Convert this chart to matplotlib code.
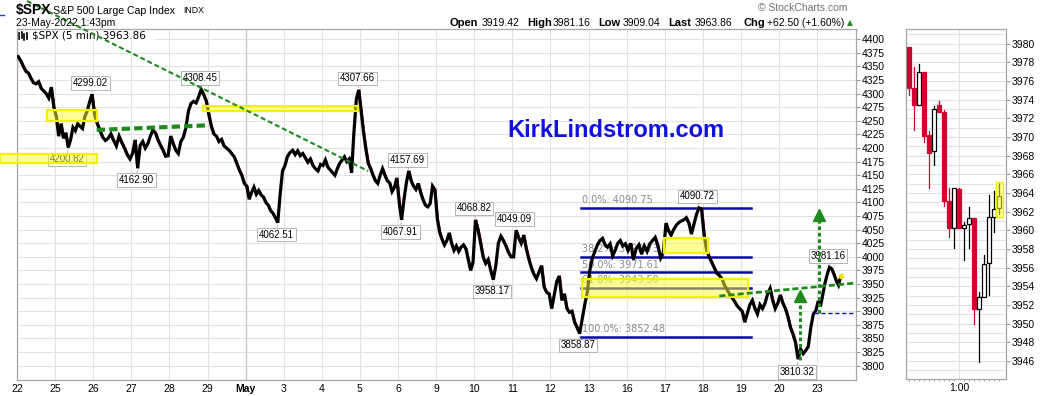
import matplotlib
matplotlib.use("Agg")
import matplotlib.pyplot as plt
import matplotlib.patches as mpatches
import matplotlib.transforms as mtransforms
from matplotlib.lines import Line2D
import numpy as np

plt.rcParams["font.family"] = ["Liberation Sans", "DejaVu Sans"]

W, H = 1050, 396

# ---- data ----
day_labels = ["22", "25", "26", "27", "28", "29", "May", "3", "4", "5", "6",
              "9", "10", "11", "12", "13", "16", "17", "18", "19", "20", "23"]

# intraday $SPX path per session (roughly half-hour samples)
apr22 = [4368, 4360, 4350, 4341, 4338, 4328, 4320, 4318, 4322, 4310, 4305, 4300, 4292, 4312, 4275]
apr25 = [4258, 4222, 4245, 4218, 4228, 4201, 4215, 4238, 4232, 4245, 4240, 4236, 4258, 4268, 4285, 4299]
apr26 = [4262, 4245, 4232, 4220, 4214, 4218, 4226, 4214, 4204, 4222, 4210, 4200, 4188, 4180]
apr27 = [4190, 4215, 4163, 4205, 4212, 4200, 4208, 4222, 4233, 4228, 4215, 4205, 4196, 4185, 4186]
apr28 = [4222, 4208, 4196, 4190, 4212, 4220, 4238, 4268, 4282, 4286, 4283, 4294, 4308, 4298, 4287]
apr29 = [4262, 4240, 4226, 4222, 4212, 4216, 4204, 4200, 4196, 4190, 4184, 4172, 4160, 4150, 4135]
may02 = [4130, 4106, 4118, 4128, 4115, 4122, 4114, 4110, 4100, 4095, 4085, 4080, 4072, 4063, 4115, 4158]
may03 = [4168, 4185, 4192, 4196, 4188, 4195, 4186, 4190, 4182, 4174, 4180, 4168, 4162, 4158, 4170]
may04 = [4168, 4178, 4165, 4160, 4155, 4150, 4162, 4172, 4178, 4184, 4175, 4180, 4155, 4230, 4290, 4307]
may05 = [4268, 4230, 4198, 4172, 4162, 4150, 4140, 4135, 4150, 4162, 4150, 4140, 4136, 4120, 4128, 4145]
may06 = [4100, 4068, 4105, 4136, 4158, 4140, 4130, 4124, 4135, 4118, 4105, 4095, 4092, 4098, 4130, 4123]
may09 = [4070, 4045, 4032, 4022, 4030, 4044, 4025, 4012, 4020, 4010, 4018, 4022, 4015, 3995, 3975, 3990]
may10 = [4068, 4050, 4026, 4000, 3988, 3995, 3975, 3958, 3984, 4025, 4038, 4030, 4020, 4008, 4000]
may11 = [4000, 4049, 4035, 4025, 4040, 4015, 3996, 3980, 3968, 3960, 3972, 3984, 3945, 3935, 3932]
may12 = [3905, 3930, 3955, 3965, 3920, 3932, 3905, 3898, 3900, 3880, 3870, 3859, 3885, 3912, 3935]
may13 = [3975, 3998, 4010, 4022, 4030, 4034, 4022, 4018, 4024, 4002, 4012, 4025, 4030, 4020, 4024]
may16 = [4012, 4025, 3995, 4015, 4022, 4005, 4020, 4010, 4024, 4030, 4036, 4020, 3998, 4008]
may17 = [4062, 4048, 4040, 4050, 4058, 4063, 4066, 4068, 4072, 4062, 4042, 4060, 4078, 4090, 4088]
may18 = [4040, 4012, 4000, 3990, 3980, 3970, 3966, 3960, 3948, 3940, 3932, 3925, 3918, 3910, 3905]
may19 = [3900, 3880, 3896, 3912, 3920, 3905, 3895, 3912, 3905, 3915, 3932, 3942, 3920, 3905, 3915]
may20 = [3930, 3915, 3905, 3890, 3870, 3858, 3842, 3812, 3830, 3822, 3828, 3835, 3870, 3895, 3901]
may23 = [3919, 3909, 3930, 3952, 3968, 3981, 3978, 3968, 3956, 3948, 3964]

sessions = [apr22, apr25, apr26, apr27, apr28, apr29, may02, may03, may04, may05, may06,
            may09, may10, may11, may12, may13, may16, may17, may18, may19, may20, may23]
last_session_part = 253 / 390  # 9:30 -> 13:43

# labelled highs / lows and the session they belong to
peak_values = [4299.02, 4308.45, 4307.66, 4157.69, 4068.82, 4049.09, 4090.72, 3981.16]
peak_sessions = [1, 4, 8, 10, 12, 13, 17, 21]
trough_values = [4200.82, 4162.90, 4062.51, 4067.91, 3958.17, 3858.87, 3810.32]
trough_sessions = [1, 3, 6, 10, 12, 14, 20]

fib_names = ["0.0%", "38.2%", "50.0%", "61.8%", "100.0%"]
fib_levels = [4090.75, 3999.73, 3971.61, 3943.50, 3852.48]

# last 19 five-minute candles (12:10 .. 13:40)
c_open = [3979.6, 3975.3, 3973.4, 3977.0, 3970.2, 3968.5, 3973.4, 3972.7, 3963.1, 3960.3,
          3964.4, 3960.2, 3960.7, 3961.3, 3951.6, 3952.9, 3956.5, 3961.4, 3962.4]
c_high = [3979.6, 3977.5, 3977.8, 3977.0, 3970.6, 3973.3, 3973.9, 3972.9, 3964.5, 3964.5,
          3964.5, 3960.9, 3962.5, 3961.3, 3953.4, 3957.4, 3963.8, 3964.2, 3965.1]
c_low = [3974.5, 3970.8, 3973.4, 3969.5, 3964.5, 3967.0, 3972.7, 3962.6, 3959.3, 3958.1,
         3960.3, 3956.8, 3958.1, 3950.0, 3945.9, 3952.9, 3953.1, 3959.8, 3961.8]
c_close = [3975.3, 3973.4, 3977.0, 3970.1, 3968.3, 3973.0, 3972.7, 3963.1, 3960.3, 3964.5,
           3960.3, 3960.6, 3961.3, 3951.6, 3952.9, 3956.4, 3961.4, 3962.3, 3963.7]

RED = "#d4002f"
GREEN = "#1e8a1e"
GRID = "#e2e2e2"
FRAME = "#a6a6a6"

fig = plt.figure(figsize=(W / 100, H / 100), dpi=100)


def ft(px, py, s, **kw):
    kw.setdefault("va", "center")
    return fig.text(px / W, 1 - py / H, s, **kw)


# ---- main panel ----
ax = fig.add_axes([17 / W, 1 - 380 / H, 839 / W, 351 / H])
ax.set_xlim(0, 22.02)
ax.set_ylim(3773.7, 4418.9)
ax.set_axisbelow(True)

xs, ys, sess_x = [], [], []
for d, vals in enumerate(sessions):
    span = last_session_part if d == len(sessions) - 1 else 1.0
    n = len(vals)
    dx = [d + (i + 0.5) / n * span for i in range(n)]
    sess_x.append(dx)
    xs += dx
    ys += vals
xs = np.array(xs)
ys = np.array(ys, dtype=float)

ax.plot(xs, ys, color="black", lw=2.3, zorder=3, solid_joinstyle="miter")
# red specks on the falling stretches
shift = mtransforms.offset_copy(ax.transData, fig=fig, x=1.2, units="dots")
for i in range(len(ys) - 1):
    if ys[i + 1] < ys[i] - 6:
        ax.plot(xs[i:i + 2], ys[i:i + 2], color=RED, lw=0.6, zorder=2.9, transform=shift)
ax.plot(xs[-1], ys[-1], "o", ms=3, color="#f0e000", zorder=3.5)

# grid + axes styling
ax.set_yticks(np.arange(3800, 4401, 25))
ax.set_xticks(range(len(day_labels)))
ax.set_xticklabels(day_labels)
ax.grid(True, color=GRID, lw=0.8)
for t in ax.get_xticklabels():
    if t.get_text() == "May":
        t.set_fontweight("bold")
ax.axvline(6, color="#c4c4c4", lw=0.9, zorder=0.6)
ax.yaxis.tick_right()
ax.tick_params(axis="y", length=3, width=0.7, color="#909090", pad=1, labelsize=7.5)
ax.tick_params(axis="x", length=0, pad=3, labelsize=7.5)
for s in ax.spines.values():
    s.set_color(FRAME)
    s.set_linewidth(0.9)

# legend strip
ax.add_patch(mpatches.Rectangle((0, 0.969), 0.1645, 0.031, transform=ax.transAxes,
                                fc="white", ec="none", zorder=1.5))
ax.text(15 / 839, 1 - 6 / 351, "$SPX (5 min) 3963.86", transform=ax.transAxes,
        fontsize=7.5, family="DejaVu Sans", va="center", ha="left", zorder=1.6)
for x0, y0, y1 in [(2, 3, 9), (4.5, 2, 8), (7, 4, 10), (9.5, 3, 9)]:
    ax.add_line(Line2D([x0 / 839, x0 / 839], [1 - (y0 + 1) / 351, 1 - (y1 + 1) / 351],
                       transform=ax.transAxes, color="black", lw=1.2, zorder=1.6))

# fibonacci retracement
for name, lev in zip(fib_names, fib_levels):
    ax.plot([14.80, 19.27], [lev, lev], color="#0a0aa8", lw=1.8, zorder=2.5)
    ax.annotate(f"{name}: {lev:.2f}", (14.82, lev), xytext=(0, 2), textcoords="offset points",
                fontsize=7, color="#8a8a8a", ha="left", va="bottom", zorder=2.4,
                family="DejaVu Sans")

# yellow highlight boxes
boxes = [(0.78, 4249.8, 2.108, 4270.0), (-0.446, 4172.1, 2.108, 4188.6),
         (4.882, 4268.2, 8.95, 4278.0), (16.98, 4007.7, 18.14, 4035.3),
         (14.83, 3926.8, 19.19, 3958.8)]
for x0, y0, x1, y1 in boxes:
    ax.add_patch(mpatches.Rectangle((x0, y0), x1 - x0, y1 - y0, fc=(1, 1, 0.2, 0.5),
                                    ec=(0.95, 0.95, 0.0, 1), lw=1.6, zorder=6, clip_on=False))

# green dashed trend lines
ax.plot([0.262, 9.213], [4470.4, 4157.9], color=GREEN, lw=1.5, dashes=(2.4, 1.4),
        zorder=7, clip_on=False)
ax.plot([2.092, 5.021], [4233.3, 4241.9], color=GREEN, lw=3, dashes=(2, 1), zorder=7)
ax.plot([18.433, 21.95], [3928.1, 3951.5], color=GREEN, lw=2, dashes=(2.2, 1.1), zorder=7)

# green measured-move arrows
tip_tf = mtransforms.offset_copy(ax.transData, fig=fig, y=-4.2, units="points")
for x, base, tip in [(20.55, 3811, 3939), (21.06, 3897, 4087)]:
    ax.plot([x, x], [base, tip - 12], color=GREEN, lw=2.2, dashes=(1.2, 0.9), zorder=7)
    ax.plot([x], [tip], marker="^", ms=9, color=GREEN, transform=tip_tf, zorder=7)

ax.plot([20.92, 22.02], [3897.5, 3897.5], color="#0000ff", lw=1, dashes=(3, 2), zorder=7)

# high / low tags
box_kw = dict(boxstyle="square,pad=0.18", fc="white", ec="#b4b4b4", lw=0.7)
arrow_kw = dict(arrowstyle="-", color="#b4b4b4", lw=0.7, shrinkA=0, shrinkB=1.5)
for v, s in zip(peak_values, peak_sessions):
    x = sess_x[s][int(np.argmax(sessions[s]))]
    ax.annotate(f"{v:.2f}", (x, v), xytext=(-1, 8), textcoords="offset points", ha="center",
                va="center", fontsize=7, bbox=box_kw, arrowprops=arrow_kw, zorder=5)
for v, s in zip(trough_values, trough_sessions):
    x = sess_x[s][int(np.argmin(sessions[s]))]
    ax.annotate(f"{v:.2f}", (x, v), xytext=(-1, -8.5), textcoords="offset points", ha="center",
                va="center", fontsize=7, bbox=box_kw, arrowprops=arrow_kw, zorder=5)

ax.text(15.72, 4232, "KirkLindstrom.com", color="#1010e0", fontsize=17, fontweight="bold",
        ha="center", va="center", zorder=8)

# ---- intraday candle panel ----
ax2 = fig.add_axes([905.7 / W, 1 - 379.3 / H, 100.3 / W, 350.6 / H])
ax2.set_xlim(-0.72, 19.42)
ax2.set_ylim(3944.04, 3981.6)
ax2.set_axisbelow(True)
for i, (o, h, l, c) in enumerate(zip(c_open, c_high, c_low, c_close)):
    up = c >= o
    col = "black" if up else RED
    ax2.plot([i, i], [l, h], color=col, lw=0.9, zorder=2)
    lo, hi = min(o, c), max(o, c)
    ax2.add_patch(mpatches.Rectangle((i - 0.42, lo), 0.84, max(hi - lo, 0.15),
                                     fc="white" if up else RED, ec=col, lw=0.9, zorder=3))
ax2.add_patch(mpatches.Rectangle((17.4, 3961.46), 1.36, 3.72, fc=(1, 1, 0.2, 0.55),
                                 ec=(0.95, 0.95, 0, 1), lw=1, zorder=4))
ax2.yaxis.tick_right()
ax2.set_yticks(np.arange(3946, 3981, 2))
ax2.set_yticks(np.arange(3945, 3982, 1), minor=True)
ax2.set_xticks([10])
ax2.set_xticklabels(["1:00"])
ax2.set_xticks(range(19), minor=True)
ax2.grid(True, which="both", axis="y", color=GRID, lw=0.8)
ax2.grid(True, which="major", axis="x", color=GRID, lw=0.8)
ax2.tick_params(axis="y", which="major", length=3, width=0.7, color="#909090", pad=1, labelsize=7.5)
ax2.tick_params(axis="y", which="minor", length=0)
ax2.tick_params(axis="x", which="major", length=0, pad=3, labelsize=7.5)
ax2.tick_params(axis="x", which="minor", length=1.5, color="#909090")
for s in ax2.spines.values():
    s.set_color(FRAME)
    s.set_linewidth(0.9)

# ---- header ----
ft(16, 10, "$SPX", fontsize=10, fontweight="bold")
ft(53, 10.5, "S&P 500 Large Cap Index", fontsize=7.6)
ft(183, 10.5, "INDX", fontsize=6.3)
ft(16, 23, "23-May-2022 1:43pm", fontsize=7.5)
ft(847, 8, "\u00a9 StockCharts.com", fontsize=7.5, color="#707070", ha="right")
header = [("Open", 450, True), ("3919.42", 482, False), ("High", 527, True),
          ("3981.16", 553, False), ("Low", 598, True), ("3909.04", 623, False),
          ("Last", 668, True), ("3963.86", 695, False), ("Chg", 743, True),
          ("+62.50 (+1.60%)", 767, False)]
for s, px, bold in header:
    ft(px, 23, s, fontsize=8 if bold else 7.5, fontweight="bold" if bold else "normal")
ft(847, 23, "\u25b2", fontsize=5.5, color=GREEN, family=["DejaVu Sans"])
fig.add_artist(Line2D([0, 4 / W], [1 - 15 / H, 1 - 15 / H], color="#2040e0", lw=1))

fig.savefig("out.png", dpi=100)
